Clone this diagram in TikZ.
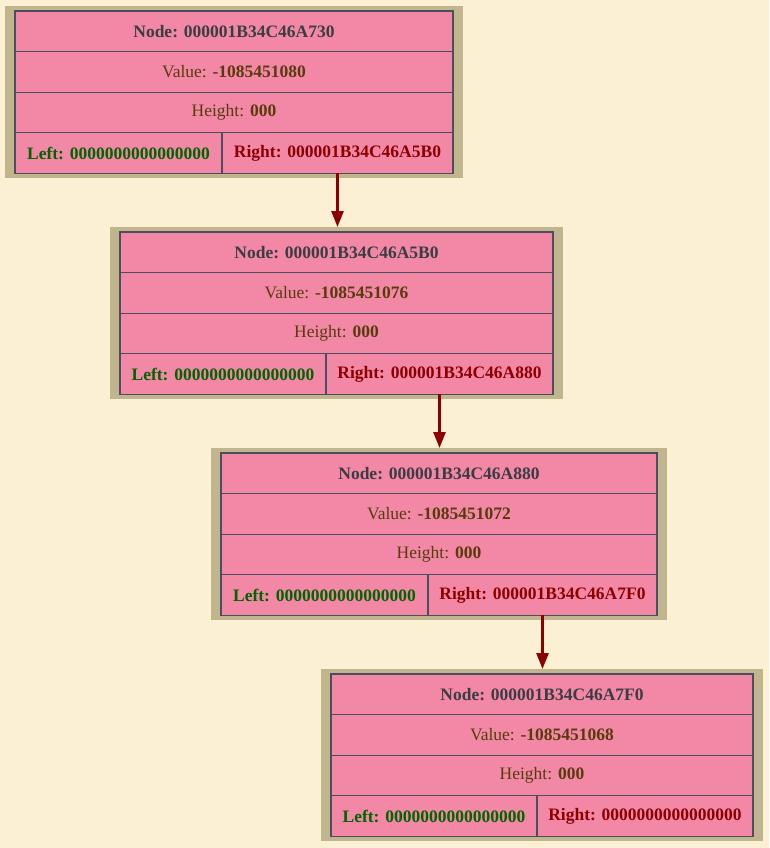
\documentclass[tikz,border=0pt]{standalone}
\usepackage{fontspec}
\setmainfont{Liberation Serif}
\usetikzlibrary{arrows.meta}
\definecolor{bgc}{HTML}{FBF0D3}
\definecolor{tanc}{HTML}{C0B58C}
\definecolor{pinkc}{HTML}{F288A5}
\definecolor{linec}{HTML}{4A4E5E}
\definecolor{nodetxt}{HTML}{3C3C44}
\definecolor{valtxt}{HTML}{5A3A0C}
\definecolor{lefttxt}{HTML}{006400}
\definecolor{righttxt}{HTML}{8B0000}
\tikzset{
  outerbox/.style={fill=tanc, draw=none, inner sep=0pt, outer sep=0pt},
  cell/.style={fill=pinkc, draw=linec, line width=1.3pt, inner sep=0pt, outer sep=0pt,
    font=\fontsize{17.5}{20}\selectfont},
  edge/.style={draw=righttxt, line width=2.6pt, -{Triangle[length=16pt,width=12pt]}}
}
\newcommand\avlnode[8]{%
  \node[outerbox, anchor=north west, minimum width={#4-#2+20}, minimum height=172] (#1) at (#2-10,#3-5) {};
  \node[cell, anchor=north west, minimum width={#4-#2}, minimum height=40.6, text=nodetxt] (#1-a) at (#2,#3) {\bfseries Node: #6};
  \node[cell, anchor=north west, minimum width={#4-#2}, minimum height=40.6, text=valtxt] (#1-b) at (#2,#3+40.6) {Value: \textbf{#7}};
  \node[cell, anchor=north west, minimum width={#4-#2}, minimum height=40.6, text=valtxt] (#1-c) at (#2,#3+81.2) {Height: \textbf{000}};
  \node[cell, anchor=north west, minimum width={#5-#2}, minimum height=40.6, text=lefttxt] (#1-l) at (#2,#3+121.8) {\bfseries Left: 0000000000000000};
  \node[cell, anchor=north west, minimum width={#4-#5}, minimum height=40.6, text=righttxt] (#1-r) at (#5,#3+121.8) {\bfseries Right: #8};
}
\begin{document}
\begin{tikzpicture}[x=1pt,y=-1pt]
  \fill[bgc] (0,0) rectangle (769,848);
  \useasboundingbox (0,0) rectangle (769,848);
  \avlnode{n1}{15}{11}{453}{222}{000001B34C46A730}{-1085451080}{000001B34C46A5B0}
  \avlnode{n2}{120}{232}{553}{326}{000001B34C46A5B0}{-1085451076}{000001B34C46A880}
  \avlnode{n3}{221}{453}{657}{428}{000001B34C46A880}{-1085451072}{000001B34C46A7F0}
  \avlnode{n4}{331}{674}{753}{537}{000001B34C46A7F0}{-1085451068}{0000000000000000}
  \draw[edge] (n1-r.south) -- (n1-r.south |- n2.north);
  \draw[edge] (n2-r.south) -- (n2-r.south |- n3.north);
  \draw[edge] (n3-r.south) -- (n3-r.south |- n4.north);
\end{tikzpicture}
\end{document}
